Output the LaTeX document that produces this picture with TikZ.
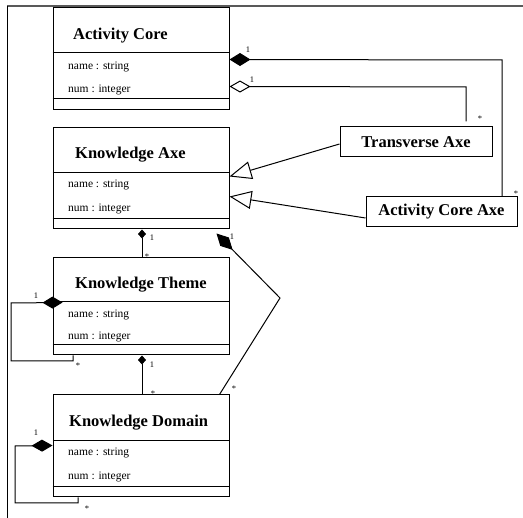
\documentclass[tikz,border=0pt]{standalone}
\usepackage{fontspec}
\setmainfont{Liberation Serif}
\usetikzlibrary{arrows.meta}
\definecolor{framegray}{rgb}{0.35,0.35,0.35}
\newcommand\clstitlefont{\fontsize{16.5}{18}\selectfont\bfseries}
\newcommand\clsattrfont{\fontsize{11.5}{13}\selectfont}
\newcommand\clsmultfont{\fontsize{8.5}{9}\selectfont}
\tikzset{
  classbox/.style={draw,line width=1pt,minimum width=176pt,inner sep=0pt},
  divider/.style={line width=1.2pt},
  classtitle/.style={font=\clstitlefont,anchor=west,inner sep=0pt},
  attr/.style={font=\clsattrfont,anchor=west,inner sep=0pt},
  axebox/.style={draw,line width=1pt,font=\clstitlefont,minimum height=30pt,inner sep=0pt},
  mult/.style={font=\clsmultfont,inner sep=0pt},
  conn/.style={line width=1pt},
  compo/.style={conn,{Diamond[length=21pt,width=13pt]}-},
  smallcompo/.style={conn,{Diamond[length=9pt,width=8pt]}-},
  aggreg/.style={conn,{Diamond[open,length=21pt,width=12pt]}-},
  inherit/.style={conn,-{Triangle[open,length=22pt,width=18pt]}}
}
\begin{document}
\begin{tikzpicture}[x=1pt,y=-1pt,line cap=butt,line join=miter]
\useasboundingbox (0,0) rectangle (523,518);
% frame
\draw [color=framegray,line width=1.5pt] (7,6) -- (523,6);
\draw [line width=1pt] (7,6) -- (7,518);
% classes
\node [classbox,minimum height=102pt] (ac) at (141,59) {};
\draw [divider] ([yshift=-45pt]ac.north west) -- ([yshift=-45pt]ac.north east);
\draw [divider,line width=1.8pt] ([yshift=12pt]ac.south west) -- ([yshift=12pt]ac.south east);
\node [classtitle] (ac-t) at (73,36) {Activity Core};
\node [attr] (ac-a1) at (68,67) {name : string};
\node [attr] (ac-a2) at (68,90) {num : integer};

\node [classbox,minimum height=101pt] (ka) at (141,178.5) {};
\draw [divider] ([yshift=-45pt]ka.north west) -- ([yshift=-45pt]ka.north east);
\draw [divider] ([yshift=11pt]ka.south west) -- ([yshift=11pt]ka.south east);
\node [classtitle] (ka-t) at (75,155) {Knowledge Axe};
\node [attr] (ka-a1) at (68,185) {name : string};
\node [attr] (ka-a2) at (68,209) {num : integer};

\node [classbox,minimum height=97pt] (kt) at (141,306.5) {};
\draw [divider] ([yshift=-44pt]kt.north west) -- ([yshift=-44pt]kt.north east);
\draw [divider] ([yshift=11pt]kt.south west) -- ([yshift=11pt]kt.south east);
\node [classtitle] (kt-t) at (75,285) {Knowledge Theme};
\node [attr] (kt-a1) at (68,315) {name : string};
\node [attr] (kt-a2) at (68,337) {num : integer};

\node [classbox,minimum height=102pt] (kd) at (141,446) {};
\draw [divider] ([yshift=-46pt]kd.north west) -- ([yshift=-46pt]kd.north east);
\draw [divider] ([yshift=11pt]kd.south west) -- ([yshift=11pt]kd.south east);
\node [classtitle] (kd-t) at (69,423) {Knowledge Domain};
\node [attr] (kd-a1) at (68,453) {name : string};
\node [attr] (kd-a2) at (68,477) {num : integer};

\node [axebox,minimum width=152pt] (ta) at (416,142) {Transverse Axe};
\node [axebox,minimum width=151pt] (aca) at (441.5,211.5) {Activity Core Axe};

% bends
\coordinate (ac-bend1) at (502,60);
\coordinate (ac-bend2) at (466,87);
\coordinate (ka-bend) at (280,298);
\coordinate (kt-loop1) at (11,303);
\coordinate (kt-loop2) at (11,361);
\coordinate (kt-loop3) at (73,361);
\coordinate (kd-loop1) at (15,446);
\coordinate (kd-loop2) at (15,503);
\coordinate (kd-loop3) at (78,503);

% associations
\draw [compo] ([yshift=-52pt]ac.north east) -- (ac-bend1) -- (ac-bend1 |- aca.north);
\draw [aggreg] ([yshift=-79pt]ac.north east) -- (ac-bend2) -- ([yshift=5pt]ac-bend2 |- ta.north);
\draw [inherit] ([yshift=-2pt]ta.west) -- ([yshift=-49pt]ka.north east);
\draw [inherit] ([yshift=-6.5pt]aca.west) -- ([yshift=-69pt]ka.north east);
\draw [smallcompo] ([xshift=1pt]ka.south) -- ([xshift=1pt]kt.north);
\draw [compo,{Diamond[length=23pt,width=12pt]}-] ([xshift=-13pt,yshift=-4pt]ka.south east) -- (ka-bend) -- ([xshift=-10pt]kd.north east);
\draw [smallcompo] ([xshift=1pt]kt.south) -- ([xshift=1pt]kd.north);
\draw [compo,{Diamond[length=20pt,width=12pt]}-] ([xshift=10pt,yshift=-45pt]kt.north west) -- (kt-loop1) -- (kt-loop2) -- (kt-loop3) -- (kt-loop3 |- kt.south);
\draw [compo,{Diamond[length=21pt,width=12pt]}-] ([yshift=-51pt]kd.north west) -- (kd-loop1) -- (kd-loop2) -- (kd-loop3) -- (kd-loop3 |- kd.south);

% multiplicities
\node [mult] (m1) at (248,50) {1};
\node [mult] (m2) at (516,194) {*};
\node [mult] (m3) at (252,80) {1};
\node [mult] (m4) at (480,119) {*};
\node [mult] (m5) at (152,238) {1};
\node [mult] (m6) at (147,257) {*};
\node [mult] (m7) at (232,237) {1};
\node [mult] (m8) at (234,389) {*};
\node [mult] (m9) at (152,365) {1};
\node [mult] (m10) at (153,394) {*};
\node [mult] (m11) at (36,296) {1};
\node [mult] (m12) at (78,366) {*};
\node [mult] (m13) at (36,433) {1};
\node [mult] (m14) at (87,509) {*};
\end{tikzpicture}
\end{document}
